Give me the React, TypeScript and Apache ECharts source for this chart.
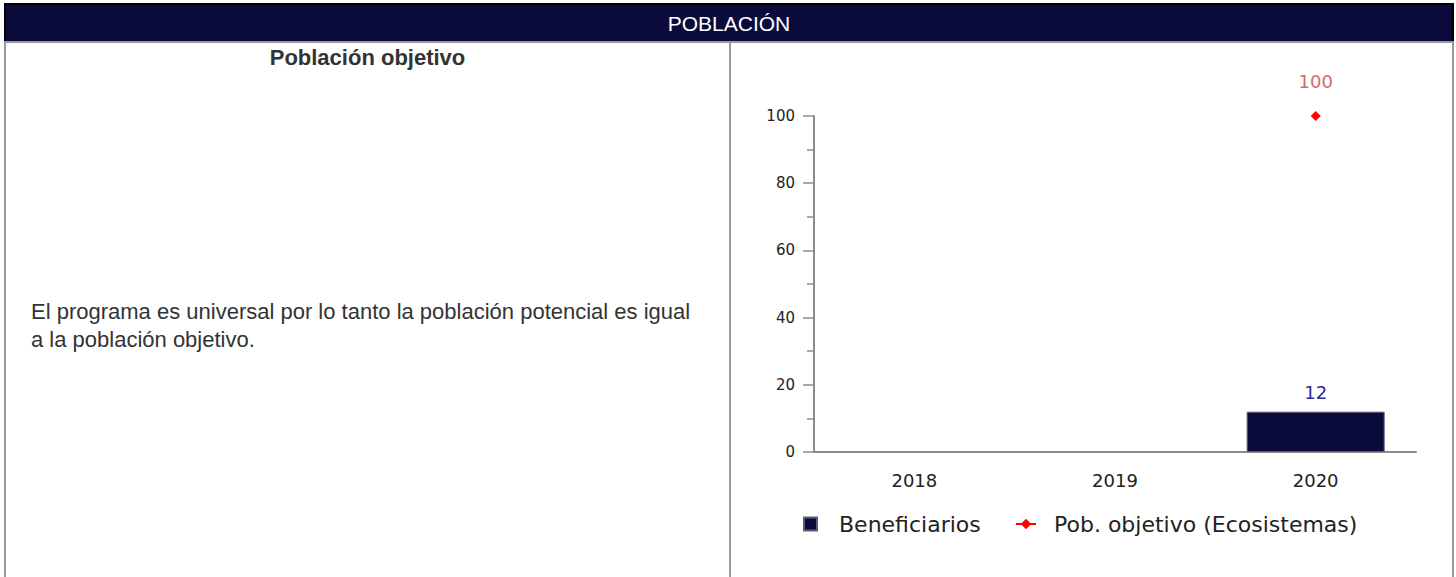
import React, { useEffect, useRef } from "react";
import * as echarts from "echarts";

const years = ["2018", "2019", "2020"];
const beneficiarios: (number | null)[] = [null, null, 12];
const poblacionObjetivo: (number | null)[] = [null, null, 100];
const yMax = 100;
const yInterval = 20;

const NAVY = "#0b0b3b";
const GRID_GRAY = "#9a9a9a";

function Chart() {
  const ref = useRef<HTMLDivElement>(null);
  useEffect(() => {
    if (!ref.current) return;
    const chart = echarts.init(ref.current, undefined, { renderer: "svg" });
    const font = "DejaVu Sans";
    chart.setOption({
      animation: false,
      grid: { left: 83, right: 37, top: 73, bottom: 125 },
      legend: [
        {
          data: ["Beneficiarios"],
          left: 67,
          top: 465,
          itemWidth: 13,
          itemHeight: 13,
          icon: "rect",
          textStyle: { fontFamily: font, fontSize: 22, color: "#222", padding: [0, 0, 0, 17] },
        },
        {
          data: ["Pob. objetivo (Ecosistemas)"],
          left: 279,
          top: 465,
          itemWidth: 20,
          itemHeight: 13,
          textStyle: { fontFamily: font, fontSize: 22, color: "#222", padding: [0, 0, 0, 13] },
        },
      ],
      xAxis: {
        type: "category",
        data: years,
        axisLine: { show: true, lineStyle: { color: "#8c8c8c", width: 2 } },
        axisTick: { show: false },
        axisLabel: { margin: 19, fontFamily: font, fontSize: 18, color: "#222" },
        splitLine: { show: false },
      },
      yAxis: {
        type: "value",
        min: 0,
        max: yMax,
        interval: yInterval,
        axisLine: { show: true, lineStyle: { color: "#8c8c8c", width: 2 } },
        axisTick: { show: true, length: 11, lineStyle: { color: "#8c8c8c", width: 1.5 } },
        minorTick: { show: true, splitNumber: 2, length: 7, lineStyle: { color: "#8c8c8c", width: 1.5 } },
        axisLabel: { margin: 19, fontFamily: font, fontSize: 15, color: "#222" },
        splitLine: { show: false },
        minorSplitLine: { show: false },
      },
      series: [
        {
          name: "Beneficiarios",
          type: "bar",
          data: beneficiarios,
          barWidth: 138,
          itemStyle: { color: NAVY, borderColor: "#5c5c7c", borderWidth: 1 },
          label: {
            show: true,
            position: "top",
            distance: 10,
            color: "#2b2b9b",
            fontFamily: font,
            fontSize: 18,
          },
        },
        {
          name: "Pob. objetivo (Ecosistemas)",
          type: "line",
          data: poblacionObjetivo,
          symbol: "diamond",
          symbolSize: 10,
          itemStyle: { color: "#ff0000" },
          lineStyle: { color: "#ff0000", width: 2 },
          label: {
            show: true,
            position: "top",
            distance: 21,
            color: "#d46a6a",
            fontFamily: font,
            fontSize: 18,
          },
        },
      ],
    });
    return () => chart.dispose();
  }, []);
  return <div ref={ref} style={{ position: "absolute", left: 731, top: 43, width: 722, height: 534 }} />;
}

export default function App() {
  const textFont = "'Liberation Sans', Arial, sans-serif";
  return (
    <div style={{ position: "fixed", left: 0, top: 0, width: 1456, height: 577, background: "#fff", overflow: "hidden", fontFamily: textFont }}>
      {/* header */}
      <div
        style={{
          position: "absolute",
          left: 4,
          top: 3,
          width: 1450,
          height: 38,
          background: NAVY,
          borderTop: "2px solid #000",
          borderLeft: "2px solid #000",
          borderRight: "2px solid #000",
          boxSizing: "border-box",
          color: "#fff",
          fontSize: 21,
          display: "flex",
          alignItems: "center",
          justifyContent: "center",
          paddingTop: 2,
        }}
      >
        POBLACIÓN
      </div>
      {/* body borders */}
      <div style={{ position: "absolute", left: 4, top: 41, width: 1450, height: 2, background: GRID_GRAY }} />
      <div style={{ position: "absolute", left: 4, top: 41, width: 2, height: 536, background: GRID_GRAY }} />
      <div style={{ position: "absolute", left: 729, top: 41, width: 2, height: 536, background: GRID_GRAY }} />
      <div style={{ position: "absolute", left: 1452, top: 41, width: 2, height: 536, background: GRID_GRAY }} />
      {/* left cell */}
      <div
        style={{
          position: "absolute",
          left: 6,
          top: 45,
          width: 723,
          textAlign: "center",
          fontWeight: "bold",
          fontSize: 22,
          color: "#333",
          lineHeight: "26px",
        }}
      >
        Población objetivo
      </div>
      <div
        style={{
          position: "absolute",
          left: 31,
          top: 298,
          width: 690,
          fontSize: 22,
          lineHeight: "28px",
          color: "#333",
          whiteSpace: "nowrap",
        }}
      >
        El programa es universal por lo tanto la población potencial es igual
        <br />a la población objetivo.
      </div>
      <Chart />
    </div>
  );
}
